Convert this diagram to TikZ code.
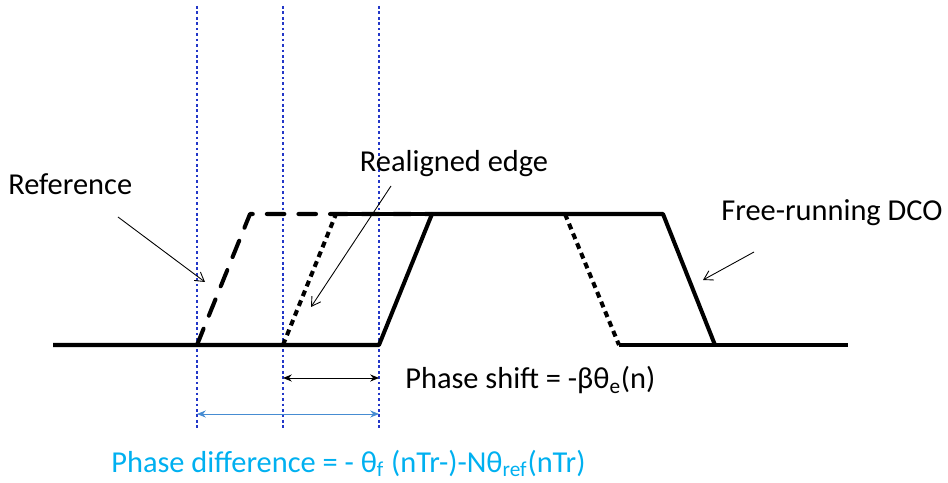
\documentclass[tikz,border=0pt]{standalone}
\usepackage{fontspec}
\setmainfont{Carlito}
\usepackage{xcolor}
\usepackage{tikz}
\usetikzlibrary{arrows.meta,positioning}
\definecolor{gridblue}{RGB}{35,55,200}
\definecolor{diffblue}{RGB}{70,140,210}
\definecolor{difftext}{RGB}{0,176,240}

\begin{document}
\begin{tikzpicture}[
  x=0.02cm, y=-0.02cm,
  font=\fontsize{17.3}{20}\selectfont,
  caption/.style={inner sep=0pt},
  signal/.style={line width=2.3pt, line join=round},
  refedge/.style={signal, line cap=round, dash pattern=on 10pt off 8pt},
  newedge/.style={signal, line cap=butt, dash pattern=on 3.4pt off 2.6pt},
  marker/.style={gridblue, line width=1.3pt, dash pattern=on 1.5pt off 1.6pt},
  pointer/.style={line width=0.5pt, -{Straight Barb[length=5pt,width=6pt]}},
  gapspan/.style={line width=0.5pt, {Stealth[length=5pt,width=4pt]}-{Stealth[length=5pt,width=4pt]}}
]
\useasboundingbox (0,0) rectangle (948,483);

\coordinate (mA) at (197,6);
\coordinate (mA') at (197,430);
\coordinate (mB) at (283,6);
\coordinate (mB') at (283,430);
\coordinate (mC) at (379,6);
\coordinate (mC') at (379,430);

\coordinate (lowL) at (53,345);
\coordinate (riseR) at (379,345);
\coordinate (topR) at (432,214);
\coordinate (topF) at (663,214);
\coordinate (fallF) at (715,345);
\coordinate (lowR) at (848,345);
\coordinate (riseRef) at (197,345);
\coordinate (topRef) at (250,214);
\coordinate (riseNew) at (283,345);
\coordinate (topNew) at (336,214);
\coordinate (topOld) at (565,214);
\coordinate (fallOld) at (619,345);

\draw[marker] (mA) -- (mA');
\draw[marker] (mB) -- (mB');
\draw[marker] (mC) -- (mC');

\draw[refedge] (riseRef) -- (topRef) -- (topR);
\draw[newedge] (riseNew) -- (topNew);
\draw[newedge] (topOld) -- (fallOld);
\draw[signal] (topNew) -- (topR);
\draw[signal] (lowL) -- (riseR) -- (topR) -- (topF) -- (fallF);
\draw[signal] (fallOld) -- (lowR);

\node[caption, anchor=base west] (reflabel) at (8,195) {Reference};
\node[caption, anchor=base] (newlabel) at (454,172) {Realigned edge};
\node[caption, anchor=base west] (dcolabel) at (721,221) {Free-running DCO};
\node[caption, anchor=base west] (shiftlabel) at (405,389) {Phase shift = -βθ\textsubscript{e}(n)};
\node[caption, anchor=base west, text=difftext] (difflabel) at (111,472) {Phase difference = - θ\textsubscript{f} (nTr-)-Nθ\textsubscript{ref}(nTr)};

\coordinate (refFrom) at (118,217);
\coordinate (refTo) at (205,282);
\coordinate (newFrom) at (391,186);
\coordinate (newTo) at (311,307);
\coordinate (dcoFrom) at (754,252);
\coordinate (dcoTo) at (703,280);
\draw[pointer] (refFrom) -- (refTo);
\draw[pointer] (newFrom) -- (newTo);
\draw[pointer] (dcoFrom) -- (dcoTo);

\coordinate (shiftL) at (283,378);
\coordinate (shiftR) at (379,378);
\coordinate (diffL) at (197,414);
\coordinate (diffR) at (379,414);
\draw[gapspan] (shiftL) -- (shiftR);
\draw[gapspan, diffblue] (diffL) -- (diffR);
\end{tikzpicture}
\end{document}
